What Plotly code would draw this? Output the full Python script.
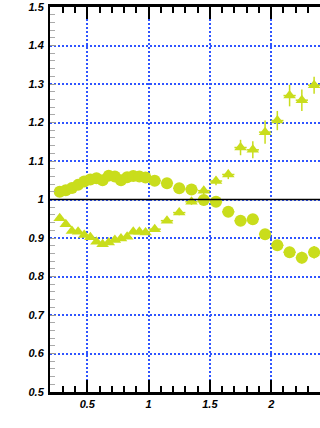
import plotly.graph_objects as go

# bin centres: fine binning below 1, coarse above
x_fine = [0.275, 0.325, 0.375, 0.425, 0.475, 0.525, 0.575, 0.625, 0.675,
          0.725, 0.775, 0.825, 0.875, 0.925, 0.975]
x_coarse = [1.05, 1.15, 1.25, 1.35, 1.45, 1.55, 1.65, 1.75, 1.85, 1.95,
            2.05, 2.15, 2.25, 2.35, 2.45]
x_vals = x_fine + x_coarse
x_half = [0.025] * len(x_fine) + [0.05] * len(x_coarse)

# circle series
circ_y = [1.020, 1.024, 1.030, 1.038, 1.047, 1.052, 1.055, 1.050, 1.062,
          1.060, 1.050, 1.058, 1.061, 1.060, 1.057,
          1.049, 1.042, 1.029, 1.026, 0.999, 0.994, 0.968, 0.945, 0.949,
          0.910, 0.881, 0.863, 0.849, 0.863, 0.822]
circ_err = [0.004] * 15 + [0.005, 0.005, 0.006, 0.006, 0.007, 0.007, 0.008,
                           0.008, 0.009, 0.010, 0.012, 0.014, 0.015, 0.016,
                           0.018]

# triangle series
tri_y = [0.951, 0.936, 0.918, 0.916, 0.908, 0.902, 0.890, 0.884, 0.888,
         0.895, 0.899, 0.903, 0.916, 0.916, 0.914,
         0.923, 0.945, 0.966, 0.994, 1.023, 1.048, 1.065, 1.135, 1.129,
         1.175, 1.205, 1.270, 1.258, 1.297, 1.350]
tri_err = [0.004] * 15 + [0.005, 0.006, 0.007, 0.008, 0.010, 0.011, 0.012,
                          0.020, 0.022, 0.030, 0.025, 0.028, 0.028, 0.022,
                          0.030]

x_ticks = [0.5, 1, 1.5, 2]
x_ticktext = ["0.5", "1", "1.5", "2"]
y_ticks = [0.5, 0.6, 0.7, 0.8, 0.9, 1.0, 1.1, 1.2, 1.3, 1.4, 1.5]
y_ticktext = ["0.5", "0.6", "0.7", "0.8", "0.9", "1", "1.1", "1.2", "1.3",
              "1.4", "1.5"]

color = "#c9dd1c"
grid = "#2f55ff"
grid_dash = "2px,2px"
tick_font = dict(family="Liberation Sans", size=11, color="black",
                 style="italic", weight="bold")

fig = go.Figure()
fig.add_trace(go.Scatter(
    x=x_vals, y=tri_y, mode="markers",
    marker=dict(symbol="triangle-up", size=11, color=color),
    error_y=dict(type="data", array=tri_err, color=color, thickness=1.5, width=0),
    error_x=dict(type="data", array=x_half, color=color, thickness=1.5, width=0),
    showlegend=False,
))
fig.add_trace(go.Scatter(
    x=x_vals, y=circ_y, mode="markers",
    marker=dict(symbol="circle", size=12, color=color),
    error_y=dict(type="data", array=circ_err, color=color, thickness=1.5, width=0),
    error_x=dict(type="data", array=x_half, color=color, thickness=1.5, width=0),
    showlegend=False,
))

# reference line at unity
fig.add_shape(type="line", xref="paper", x0=0, x1=1, yref="y", y0=1, y1=1,
              line=dict(color="black", width=1.5))

fig.update_xaxes(
    range=[0.196, 2.398], tickvals=x_ticks, ticktext=x_ticktext,
    ticks="inside", ticklen=12, tickwidth=1.5, tickcolor="black",
    showline=True, linewidth=2.5, linecolor="black", mirror="ticks",
    showgrid=True, gridcolor=grid, griddash=grid_dash, gridwidth=1.5,
    zeroline=False, tickfont=tick_font, ticklabelstandoff=0,
    minor=dict(dtick=0.1, tick0=0, ticks="inside", ticklen=6,
               tickwidth=1.5, tickcolor="black", showgrid=False),
)
fig.update_yaxes(
    range=[0.5, 1.5], tickvals=y_ticks, ticktext=y_ticktext,
    ticks="inside", ticklen=6, tickwidth=1, tickcolor="#999999",
    showline=True, linewidth=2, linecolor="black", mirror=False,
    showgrid=True, gridcolor=grid, griddash=grid_dash, gridwidth=1.5,
    zeroline=False, tickfont=tick_font, ticklabelstandoff=2,
    minor=dict(dtick=0.02, tick0=0, ticks="inside", ticklen=5,
               tickwidth=1, tickcolor="#aaaaaa", showgrid=False),
)

fig.update_layout(
    width=320, height=428,
    margin=dict(l=50, r=0, t=7, b=36),
    paper_bgcolor="white", plot_bgcolor="white",
)

fig.write_html("out.html")
